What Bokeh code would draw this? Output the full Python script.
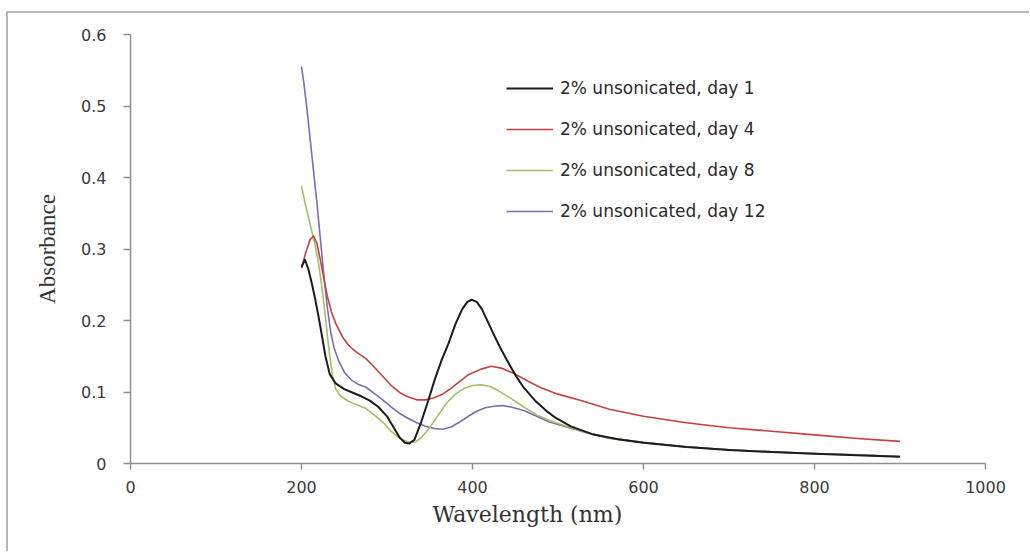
from bokeh.plotting import figure
from bokeh.models import (Range1d, FixedTicker, CustomJSTickFormatter, Legend,
                          LegendItem, Title, ColumnDataSource)
from bokeh.embed import file_html
from bokeh.resources import INLINE

# ---------------- data ----------------
day1_nm = [200, 204, 208, 212, 216, 220, 224, 228, 233, 240, 250, 260, 270, 280,
           290, 300, 308, 315, 321, 326, 332, 340, 348, 356, 364, 372, 380, 388,
           394, 399, 405, 411, 418, 425, 432, 440, 450, 460, 474, 486, 497, 515,
           540, 570, 600, 650, 700, 750, 800, 850, 900]
day1_abs = [0.275, 0.285, 0.272, 0.252, 0.230, 0.205, 0.178, 0.150, 0.125, 0.112,
            0.104, 0.099, 0.094, 0.088, 0.079, 0.066, 0.050, 0.036, 0.029, 0.028,
            0.033, 0.058, 0.087, 0.118, 0.145, 0.168, 0.195, 0.216, 0.226, 0.229,
            0.226, 0.216, 0.198, 0.180, 0.163, 0.145, 0.124, 0.106, 0.087, 0.074,
            0.064, 0.052, 0.041, 0.034, 0.029, 0.023, 0.019, 0.016, 0.0135, 0.0115,
            0.0095]

day4_nm = [200, 205, 210, 214, 218, 222, 226, 230, 235, 240, 248, 256, 265, 275,
           285, 295, 305, 315, 325, 335, 345, 355, 365, 375, 385, 395, 410, 422,
           435, 450, 465, 480, 500, 530, 560, 600, 650, 700, 750, 800, 850, 900]
day4_abs = [0.273, 0.295, 0.313, 0.318, 0.308, 0.285, 0.260, 0.235, 0.212, 0.196,
            0.177, 0.164, 0.155, 0.147, 0.135, 0.122, 0.109, 0.099, 0.093, 0.089,
            0.089, 0.092, 0.097, 0.105, 0.115, 0.124, 0.132, 0.136, 0.133, 0.125,
            0.115, 0.106, 0.097, 0.087, 0.076, 0.066, 0.057, 0.050, 0.045, 0.040,
            0.035, 0.031]

day8_nm = [200, 204, 208, 212, 216, 220, 224, 228, 232, 236, 240, 246, 255, 265,
           275, 285, 295, 305, 315, 325, 333, 340, 350, 360, 370, 380, 390, 400,
           410, 420, 430, 445, 460, 475, 490, 510, 530, 560, 600, 650, 700, 750,
           800, 850, 900]
day8_abs = [0.388, 0.365, 0.345, 0.325, 0.305, 0.280, 0.245, 0.205, 0.160, 0.125,
            0.104, 0.094, 0.087, 0.082, 0.077, 0.068, 0.058, 0.045, 0.035, 0.030,
            0.030, 0.036, 0.050, 0.068, 0.085, 0.097, 0.105, 0.109, 0.110, 0.108,
            0.102, 0.091, 0.079, 0.068, 0.060, 0.052, 0.044, 0.035, 0.0292, 0.0232,
            0.0192, 0.0162, 0.0137, 0.0117, 0.0097]

day12_nm = [200, 203, 206, 210, 214, 218, 222, 226, 230, 234, 238, 244, 250, 258,
            266, 275, 285, 295, 305, 315, 325, 335, 345, 355, 365, 375, 385, 395,
            405, 415, 425, 435, 445, 460, 475, 490, 510, 530, 560, 600, 650, 700,
            750, 800, 850, 900]
day12_abs = [0.555, 0.530, 0.500, 0.455, 0.410, 0.365, 0.315, 0.265, 0.220, 0.185,
             0.162, 0.142, 0.128, 0.117, 0.111, 0.107, 0.098, 0.089, 0.079, 0.070,
             0.063, 0.057, 0.052, 0.049, 0.048, 0.051, 0.058, 0.066, 0.073, 0.078,
             0.080, 0.081, 0.079, 0.074, 0.066, 0.058, 0.051, 0.044, 0.036, 0.0295,
             0.0235, 0.0193, 0.0163, 0.0140, 0.0120, 0.0097]

series_labels = ["2% unsonicated, day 1", "2% unsonicated, day 4",
                 "2% unsonicated, day 8", "2% unsonicated, day 12"]
x_ticks = [0, 200, 400, 600, 800, 1000]
y_ticks = [0, 0.1, 0.2, 0.3, 0.4, 0.5, 0.6]
x_title = "Wavelength (nm)"
y_title = "Absorbance"

colors = ["#1c1c1c", "#c9403e", "#a4c063", "#7b6db3"]

# ---------------- figure ----------------
p = figure(width=1023, height=540, output_backend="svg", toolbar_location=None,
           x_range=Range1d(0, 1000), y_range=Range1d(0, 0.6),
           min_border_left=122, min_border_right=46, min_border_top=21,
           min_border_bottom=90)
p.margin = (11, 0, 0, 6)
p.styles = {"border-left": "2px solid #b8b8b8", "border-top": "2px solid #b8b8b8"}
p.outline_line_color = None
p.background_fill_color = "white"
p.border_fill_color = "white"
p.xgrid.visible = False
p.ygrid.visible = False

axis_gray = "#8e8e8e"
for ax in (p.xaxis[0], p.yaxis[0]):
    ax.axis_line_color = axis_gray
    ax.axis_line_width = 1.5
    ax.major_tick_line_color = axis_gray
    ax.major_tick_line_width = 1.5
    ax.major_tick_in = 0
    ax.minor_tick_line_color = None
    ax.major_label_text_font = "DejaVu Sans"
    ax.major_label_text_font_size = "16px"
    ax.major_label_text_color = "#3a3a3a"

p.xaxis.ticker = FixedTicker(ticks=x_ticks)
p.yaxis.ticker = FixedTicker(ticks=y_ticks)
p.xaxis.major_tick_out = 6
p.yaxis.major_tick_out = 7
p.xaxis.major_label_standoff = 11
p.yaxis.major_label_standoff = 17
p.yaxis.formatter = CustomJSTickFormatter(code="return tick == 0 ? '0' : tick.toFixed(1);")

p.yaxis.axis_label = y_title
p.yaxis.axis_label_text_font = "Liberation Serif"
p.yaxis.axis_label_text_font_style = "normal"
p.yaxis.axis_label_text_font_size = "23px"
p.yaxis.axis_label_text_color = "#333333"
p.yaxis.axis_label_standoff = 18

# ---------------- lines ----------------
src = [ColumnDataSource(dict(x=day1_nm, y=day1_abs)),
       ColumnDataSource(dict(x=day4_nm, y=day4_abs)),
       ColumnDataSource(dict(x=day8_nm, y=day8_abs)),
       ColumnDataSource(dict(x=day12_nm, y=day12_abs))]
widths = [2.0, 1.6, 1.6, 1.6]
renderers = [None] * 4
for i in [3, 2, 1, 0]:
    renderers[i] = p.line("x", "y", source=src[i], line_color=colors[i],
                          line_width=widths[i], line_join="round")

legend = Legend(items=[LegendItem(label=series_labels[i], renderers=[renderers[i]])
                       for i in range(4)],
                location=(376, 242), orientation="vertical",
                glyph_width=47, glyph_height=20, label_height=20,
                label_standoff=7, spacing=21, padding=0, margin=0,
                label_text_font="DejaVu Sans", label_text_font_size="17px",
                label_text_color="#2a2a2a",
                border_line_color=None, background_fill_alpha=0)
p.add_layout(legend)

xtitle = Title(text=x_title, align="left", offset=302, standoff=8,
               text_font="DejaVu Serif", text_font_size="22px",
               text_font_style="normal", text_color="#333333")
p.add_layout(xtitle, "below")

open("out.html", "w").write(file_html(p, INLINE))
